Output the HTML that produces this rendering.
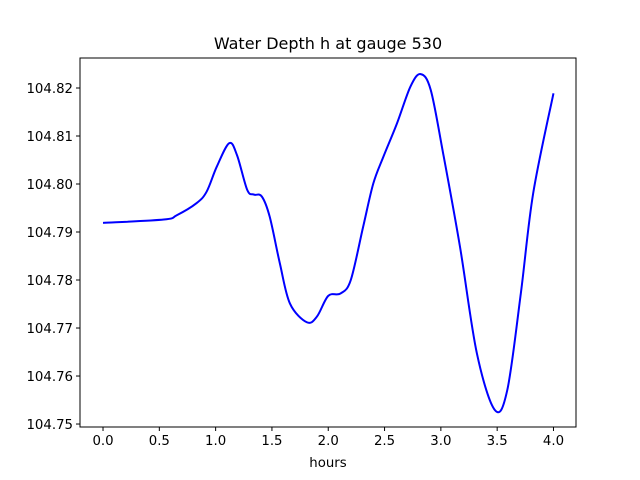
<!DOCTYPE html>
<html><head><meta charset="utf-8"><style>
body{margin:0;background:#fff}
svg{display:block;font-family:"DejaVu Sans","Liberation Sans",sans-serif}
</style></head><body>
<svg id="chart" width="640" height="480" xmlns="http://www.w3.org/2000/svg">
<rect width="640" height="480" fill="#fff"/>
<text x="328" y="49" text-anchor="middle" font-size="16">Water Depth h at gauge 530</text>
<g id="ticks"></g>
<path id="line" fill="none" stroke="#0000ff" stroke-width="2"/>
<rect x="80" y="58" width="496" height="369" fill="none" stroke="#000" stroke-width="1"/>
<text x="328" y="467" text-anchor="middle" font-size="13.3">hours</text>
</svg>
<script>
const hours=[0,0.54,0.655,0.83,0.92,1.01,1.12,1.19,1.28,1.34,1.41,1.48,1.57,1.66,1.81,1.90,2.00,2.11,2.20,2.31,2.40,2.49,2.61,2.73,2.82,2.91,3.02,3.17,3.32,3.48,3.59,3.71,3.82,4.0];
const depth=[104.7919,104.7926,104.7935,104.796,104.7984,104.8036,104.8085,104.806,104.7988,104.7978,104.7974,104.7932,104.7835,104.7751,104.7712,104.7724,104.7767,104.7772,104.78,104.7911,104.8001,104.8057,104.8126,104.8203,104.8229,104.8196,104.8064,104.7869,104.7647,104.7529,104.7571,104.7772,104.7981,104.8189];
const xTicks=[0,0.5,1,1.5,2,2.5,3,3.5,4];
const xTickLabels=["0.0","0.5","1.0","1.5","2.0","2.5","3.0","3.5","4.0"];
const yTicks=[104.75,104.76,104.77,104.78,104.79,104.80,104.81,104.82];
const yTickLabels=["104.75","104.76","104.77","104.78","104.79","104.80","104.81","104.82"];
const L=80,R=576,T=58,B=427,xmin=-0.2044,xmax=4.2,ymin=104.74938,ymax=104.82625;
const X=v=>L+(v-xmin)/(xmax-xmin)*(R-L);
const Y=v=>B-(v-ymin)/(ymax-ymin)*(B-T);
const NS="http://www.w3.org/2000/svg";
const g=document.getElementById('ticks');
function mk(tag,attrs){const e=document.createElementNS(NS,tag);for(const k in attrs)e.setAttribute(k,attrs[k]);return e;}
xTicks.forEach((t,i)=>{
 const l=mk('line',{x1:X(t),x2:X(t),y1:B,y2:B+4,stroke:'#000'});
 
 
 g.appendChild(l);
 const tx=mk('text',{x:X(t),y:B+18,'text-anchor':'middle','font-size':'13.3'});
 
 
 tx.textContent=xTickLabels[i];g.appendChild(tx);
});
yTicks.forEach((t,i)=>{
 const l=mk('line',{x1:L-4,x2:L,y1:Y(t),y2:Y(t),stroke:'#000'});
 
 
 g.appendChild(l);
 const tx=mk('text',{x:L-7,y:Y(t)+5,'text-anchor':'end','font-size':'13.3'});
 
 
 tx.textContent=yTickLabels[i];g.appendChild(tx);
});
// Catmull-Rom smoothing
const P=hours.map((h,i)=>[X(h),Y(depth[i])]);
let d='M'+P[0][0]+','+P[0][1];
for(let i=0;i<P.length-1;i++){
 const p0=P[Math.max(i-1,0)],p1=P[i],p2=P[i+1],p3=P[Math.min(i+2,P.length-1)];
 const c1=[p1[0]+(p2[0]-p0[0])/6,p1[1]+(p2[1]-p0[1])/6];
 const c2=[p2[0]-(p3[0]-p1[0])/6,p2[1]-(p3[1]-p1[1])/6];
 d+=' C'+c1+' '+c2+' '+p2;
}
document.getElementById('line').setAttribute('d',d);
</script>
</body></html>
